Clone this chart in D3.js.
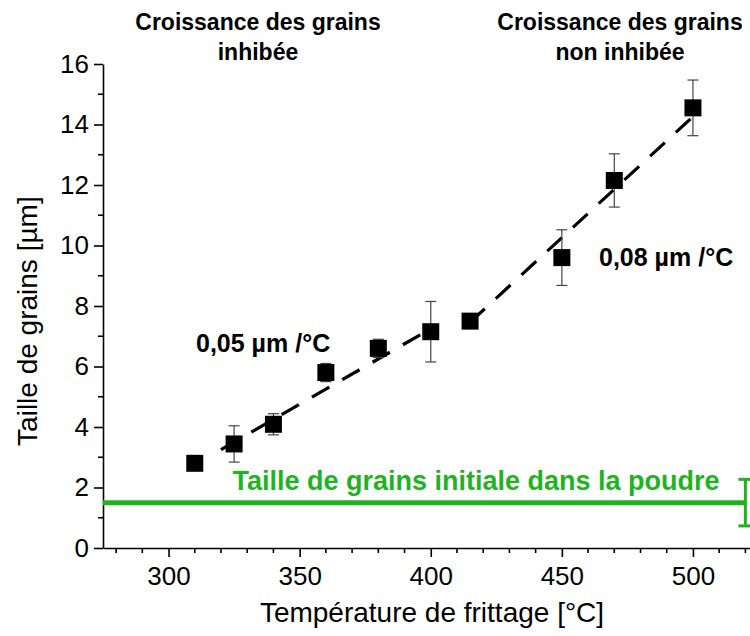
<!DOCTYPE html>
<html>
<head>
<meta charset="utf-8">
<script src="https://cdn.jsdelivr.net/npm/d3@7"></script>
<style>
  html, body { margin: 0; padding: 0; background: #fff; }
  svg { display: block; }
  text { font-family: Arial, "Liberation Sans", sans-serif; }
</style>
</head>
<body>
<svg id="chart" width="750" height="636"></svg>
<script>
// Sintering temperature (°C) and mean grain size (µm) with standard deviation
const temperatures = [310, 325, 340, 360, 380, 400, 415, 450, 470, 500];
const grainSizes   = [2.8, 3.44, 4.09, 5.8, 6.6, 7.15, 7.5, 9.6, 12.15, 14.55];
const grainErrors  = [0.2, 0.6, 0.35, 0.3, 0.3, 1.0, 0.2, 0.92, 0.88, 0.92];

// Linear trends of the two growth regimes (end points)
const fitInhibited    = [[320, 3.25], [400, 7.25]];
const fitNonInhibited = [[415, 7.46], [500, 14.26]];

// Initial powder grain size (µm) and its spread, bar drawn at 520 °C
const powderSize = 1.5;
const powderError = 0.77;
const powderErrorAt = 520;

// Axis ticks
const xMajorTicks = [300, 350, 400, 450, 500];
const xMinorTicks = [280, 290, 310, 320, 330, 340, 360, 370, 380, 390, 410, 420, 430, 440, 460, 470, 480, 490, 510, 520];
const yMajorTicks = [0, 2, 4, 6, 8, 10, 12, 14, 16];
const yMinorTicks = [1, 3, 5, 7, 9, 11, 13, 15];

const svg = d3.select("#chart");
const green = "#1fb41f";
const font = "Arial, 'Liberation Sans', sans-serif";

const x = d3.scaleLinear().domain([275, 525]).range([103, 758.5]);
const y = d3.scaleLinear().domain([0, 16]).range([548, 64]);

// Axes
const xAxis = svg.append("g")
  .attr("transform", `translate(0,${y(0)})`)
  .call(d3.axisBottom(x).tickValues(xMajorTicks).tickSize(9).tickPadding(10).tickSizeOuter(0));
const yAxis = svg.append("g")
  .attr("transform", `translate(${x(275)},0)`)
  .call(d3.axisLeft(y).tickValues(yMajorTicks).tickSize(9).tickPadding(5).tickSizeOuter(0));

[xAxis, yAxis].forEach(g => {
  g.select(".domain").attr("stroke", "#000").attr("stroke-width", 1.6);
  g.selectAll(".tick line").attr("stroke", "#000").attr("stroke-width", 1.6);
  g.selectAll(".tick text").attr("fill", "#000").style("font-size", "26px")
    .style("font-family", font);
});

svg.append("g").selectAll("line").data(xMinorTicks).join("line")
  .attr("x1", d => x(d)).attr("x2", d => x(d))
  .attr("y1", y(0)).attr("y2", y(0) + 5)
  .attr("stroke", "#000").attr("stroke-width", 1.6);
svg.append("g").selectAll("line").data(yMinorTicks).join("line")
  .attr("x1", x(275)).attr("x2", x(275) - 5)
  .attr("y1", d => y(d)).attr("y2", d => y(d))
  .attr("stroke", "#000").attr("stroke-width", 1.6);

// Axis titles
svg.append("text")
  .attr("x", 432).attr("y", 622)
  .attr("text-anchor", "middle")
  .style("font-size", "28px")
  .text("Température de frittage [°C]");
svg.append("text")
  .attr("transform", `translate(37,${y(7.5)}) rotate(-90)`)
  .attr("text-anchor", "middle")
  .style("font-size", "28px")
  .text("Taille de grains [µm]");

// Initial powder grain size
svg.append("line")
  .attr("x1", x(275)).attr("x2", x(powderErrorAt))
  .attr("y1", y(powderSize)).attr("y2", y(powderSize))
  .attr("stroke", green).attr("stroke-width", 5);
const pe = svg.append("g").attr("stroke", green).attr("stroke-width", 3);
pe.append("line")
  .attr("x1", x(powderErrorAt)).attr("x2", x(powderErrorAt))
  .attr("y1", y(powderSize + powderError)).attr("y2", y(powderSize - powderError));
[powderSize + powderError, powderSize - powderError].forEach(v => {
  pe.append("line")
    .attr("x1", x(powderErrorAt) - 7).attr("x2", x(powderErrorAt) + 7)
    .attr("y1", y(v)).attr("y2", y(v));
});
svg.append("text")
  .attr("x", 476).attr("y", 490)
  .attr("text-anchor", "middle")
  .attr("fill", green)
  .style("font-size", "27px").style("font-weight", "bold")
  .text("Taille de grains initiale dans la poudre");

// Trend lines
const line = d3.line().x(d => x(d[0])).y(d => y(d[1]));
[fitInhibited, fitNonInhibited].forEach(f => {
  svg.append("path")
    .attr("d", line(f))
    .attr("fill", "none")
    .attr("stroke", "#000")
    .attr("stroke-width", 3.2)
    .attr("stroke-dasharray", "20,15");
});

// Error bars
const points = temperatures.map((t, i) => ({ t, v: grainSizes[i], e: grainErrors[i] }));
const eb = svg.append("g").attr("stroke", "#444").attr("stroke-width", 1.2);
points.forEach(p => {
  eb.append("line")
    .attr("x1", x(p.t)).attr("x2", x(p.t))
    .attr("y1", y(p.v + p.e)).attr("y2", y(p.v - p.e));
  [p.v + p.e, p.v - p.e].forEach(v => {
    eb.append("line")
      .attr("x1", x(p.t) - 5.5).attr("x2", x(p.t) + 5.5)
      .attr("y1", y(v)).attr("y2", y(v));
  });
});

// Markers
const s = 17;
svg.append("g").selectAll("rect").data(points).join("rect")
  .attr("x", d => x(d.t) - s / 2)
  .attr("y", d => y(d.v) - s / 2)
  .attr("width", s).attr("height", s)
  .attr("fill", "#000");

// Slope annotations
svg.append("text")
  .attr("x", 196).attr("y", 352)
  .style("font-size", "25px").style("font-weight", "bold")
  .text("0,05 µm /°C");
svg.append("text")
  .attr("x", 599).attr("y", 266)
  .style("font-size", "25px").style("font-weight", "bold")
  .text("0,08 µm /°C");

// Regime headings
const headings = [
  { cx: 258, lines: ["Croissance des grains", "inhibée"] },
  { cx: 620, lines: ["Croissance des grains", "non inhibée"] }
];
headings.forEach(h => {
  h.lines.forEach((l, i) => {
    svg.append("text")
      .attr("x", h.cx).attr("y", 30 + i * 30)
      .attr("text-anchor", "middle")
      .style("font-size", "23px").style("font-weight", "bold")
      .text(l);
  });
});
</script>
</body>
</html>
